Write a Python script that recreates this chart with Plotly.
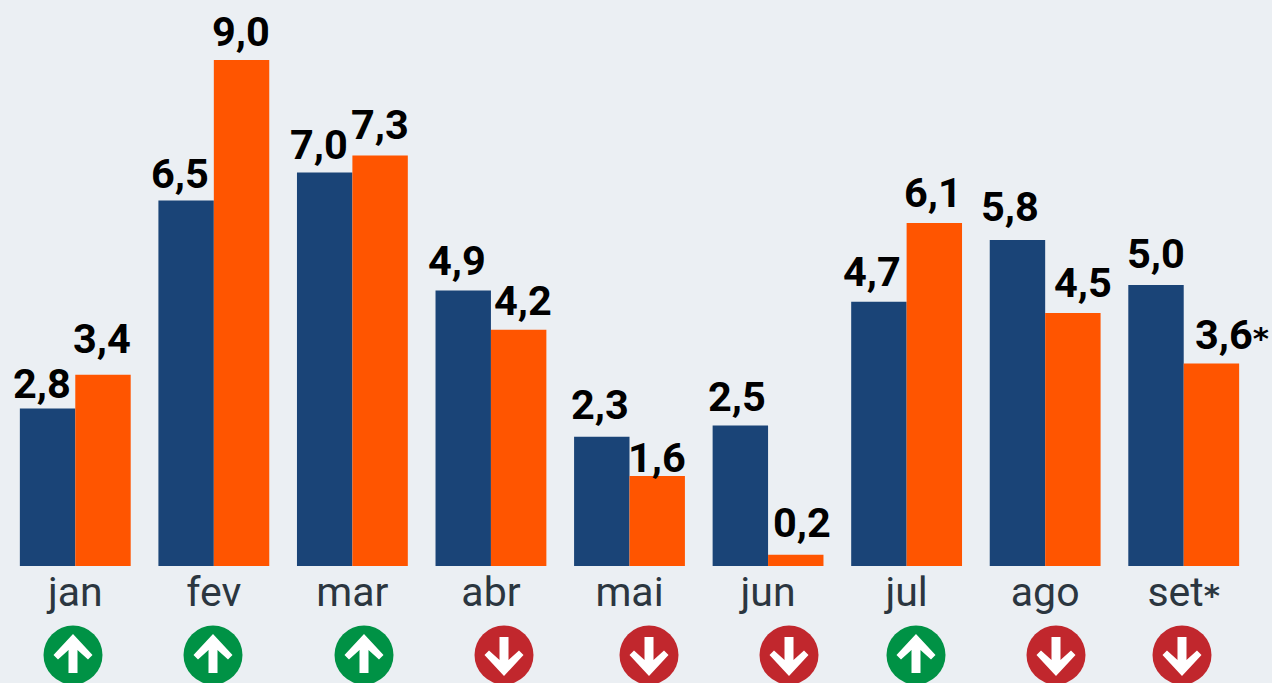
import plotly.graph_objects as go

STAR_TICK = '<span style="font-family:\'DejaVu Sans\';font-size:31px;font-weight:bold">*</span>'
STAR_LABEL = '<span style="font-family:\'DejaVu Sans\';font-size:31px;font-weight:bold">*</span>'

months = ["jan", "fev", "mar", "abr", "mai", "jun", "jul", "ago", "set*"]
tick_text = ["jan", "fev", "mar", "abr", "mai", "jun", "jul", "ago", "set" + STAR_TICK]
series_a = [2.8, 6.5, 7.0, 4.9, 2.3, 2.5, 4.7, 5.8, 5.0]
series_b = [3.4, 9.0, 7.3, 4.2, 1.6, 0.2, 6.1, 4.5, 3.6]
labels_a = ["2,8", "6,5", "7,0", "4,9", "2,3", "2,5", "4,7", "5,8", "5,0"]
labels_b = ["3,4", "9,0", "7,3", "4,2", "1,6", "0,2", "6,1", "4,5", "3,6" + STAR_LABEL]

# label nudges in pixels (horizontal offset from bar centre, gap above bar top)
dx_a = [-6, -6, -6, -6, -2, -3, -7, -7, 0]
dx_b = [-1, -1, 0, 4, 0, 6, -1, 10, 21]
gap_a = [10, 12, 13, 15, 17, 14, 15, 18, 16]
gap_b = [21, 14, 16, 14, 4, 17, 16, 16, 14]
icon_px = [73, 213, 364, 504, 649, 789, 916, 1056, 1182]

W, H = 1272, 683
L, R, T, B = 6, 19, 0, 117
BLUE, ORANGE, BG = "#1a4477", "#ff5500", "#ebeff3"
GREEN, RED = "#009245", "#c1272d"
FONT = "Roboto"
plot_w, plot_h = W - L - R, H - T - B
YMAX = 566 / (506 / 9.0)
BAR_W = plot_w / 9 * 0.4
TEXT_MID = 15  # px from digit baseline up to the middle of the line box


def px(x):
    return (x - L) / plot_w


def py(y):
    return (H - B - y) / plot_h


fig = go.Figure()
fig.add_bar(x=months, y=series_a, marker=dict(color=BLUE, line_width=0), offsetgroup="a")
fig.add_bar(x=months, y=series_b, marker=dict(color=ORANGE, line_width=0), offsetgroup="b")

annotations = []
for i, m in enumerate(months):
    for vals, labs, dxs, gaps, side in (
        (series_a, labels_a, dx_a, gap_a, -0.5),
        (series_b, labels_b, dx_b, gap_b, 0.5),
    ):
        annotations.append(dict(
            x=m, y=vals[i], xref="x", yref="y", text=labs[i], showarrow=False,
            xanchor="center", yanchor="middle",
            xshift=side * BAR_W + dxs[i], yshift=gaps[i] + TEXT_MID,
            font=dict(family=FONT, size=41.5, color="#000000", weight="bold"),
        ))

shapes = []
ARROW = [(0, -21), (19.5, 0), (15, 4.5), (4.5, -5), (4.5, 18), (-4.5, 18), (-4.5, -5), (-15, 4.5), (-19.5, 0)]
CY, RAD = 655, 29.5
for cx, a, b in zip(icon_px, series_a, series_b):
    up = b > a
    shapes.append(dict(
        type="circle", xref="paper", yref="paper", layer="above",
        x0=px(cx - RAD), x1=px(cx + RAD), y0=py(CY + RAD), y1=py(CY - RAD),
        fillcolor=GREEN if up else RED, line_width=0,
    ))
    sign = 1 if up else -1
    pts = [(px(cx + ax), py(CY + sign * ay)) for ax, ay in ARROW]
    path = "M" + " L".join(f"{x:.5f},{y:.5f}" for x, y in pts) + " Z"
    shapes.append(dict(
        type="path", xref="paper", yref="paper", layer="above", path=path,
        fillcolor="#ffffff", line_width=0,
    ))

fig.update_layout(
    width=W, height=H, autosize=False,
    margin=dict(l=L, r=R, t=T, b=B, pad=0),
    paper_bgcolor=BG, plot_bgcolor=BG,
    barmode="group", bargap=0.2, bargroupgap=0,
    showlegend=False,
    annotations=annotations, shapes=shapes,
    xaxis=dict(
        type="category", categoryorder="array", categoryarray=months,
        tickmode="array", tickvals=months, ticktext=tick_text,
        range=[-0.5, 8.5], showgrid=False, zeroline=False, showline=False,
        ticks="", ticklabelstandoff=-2,
        tickfont=dict(family=FONT, size=41, color="#2b3640"),
    ),
    yaxis=dict(range=[0, YMAX], visible=False, fixedrange=True),
)

fig.write_html(
    "out.html",
    config=dict(displayModeBar=False),
    post_script="document.body.style.margin='0';document.body.style.background='#ebeff3';",
)
